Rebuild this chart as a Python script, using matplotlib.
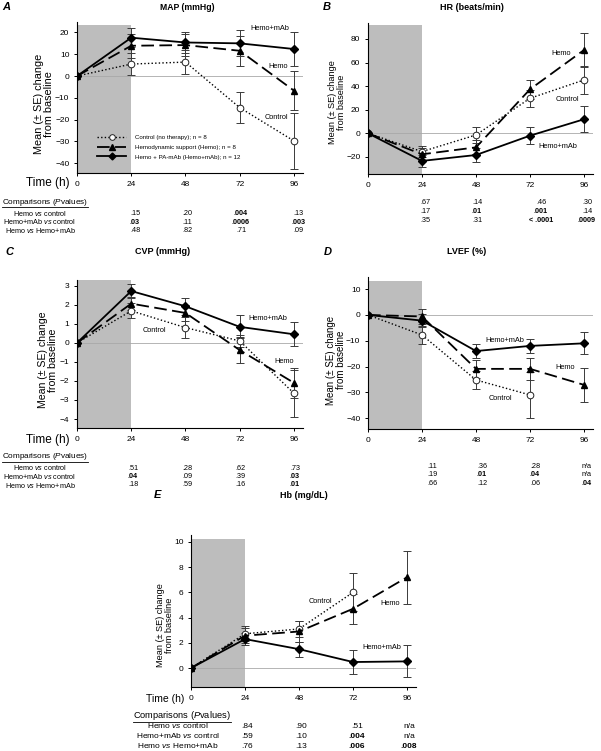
import numpy as np
import matplotlib
matplotlib.use("Agg")
import matplotlib.pyplot as plt
from matplotlib.lines import Line2D

plt.rcParams['font.family'] = ['Liberation Sans', 'DejaVu Sans']
plt.rcParams['mathtext.fontset'] = 'custom'
plt.rcParams['mathtext.rm'] = 'Liberation Sans'
plt.rcParams['mathtext.it'] = 'Liberation Sans:italic'

nan = np.nan
hours = [0, 24, 48, 72, 96]

# MAP (mmHg)
map_ctrl = [0, 5.5, 6.4, -14.5, -29.8]
map_ctrl_se = [0, 5, 5.5, 7.2, 12.7]
map_hemo = [0, 13.9, 14.2, 11.6, -6.7]
map_hemo_se = [0, 5.4, 5, 7, 9]
map_mab = [0, 17.6, 15.4, 15.0, 12.4]
map_mab_se = [0, 4.5, 4.6, 6, 7.6]

# HR (beats/min)
hr_ctrl = [0, -15.5, -1.4, 29.7, 45.2]
hr_ctrl_se = [0, 5, 7, 7, 11.5]
hr_hemo = [0, -17.8, -11.9, 37.3, 70.6]
hr_hemo_se = [0, 5, 6, 8, 14]
hr_mab = [0, -23.4, -18.4, -2, 11.9]
hr_mab_se = [0, 5, 6, 7, 11]

# CVP (mmHg)
cvp_ctrl = [0, 1.68, 0.8, 0.1, -2.65]
cvp_ctrl_se = [0, 0.4, 0.55, 0.3, 1.25]
cvp_hemo = [0, 2.06, 1.57, -0.38, -2.1]
cvp_hemo_se = [0, 0.35, 0.4, 0.7, 0.8]
cvp_mab = [0, 2.72, 1.92, 0.84, 0.45]
cvp_mab_se = [0, 0.35, 0.45, 0.6, 0.62]

# LVEF (%)
lvef_ctrl = [0, -7.75, -25.2, -31, nan]
lvef_ctrl_se = [0, 3.4, 3.5, 9, nan]
lvef_hemo = [0, -0.6, -20.9, -20.9, -27.1]
lvef_hemo_se = [0, 3, 3.5, 4.2, 6.5]
lvef_mab = [0, -2.2, -14, -12, -11]
lvef_mab_se = [0, 2.5, 2.8, 2.6, 4.3]

# Hb (mg/dL)
hb_ctrl = [0, 2.72, 3.1, 6.0, nan]
hb_ctrl_se = [0, 0.6, 0.6, 1.5, nan]
hb_hemo = [0, 2.57, 2.9, 4.7, 7.2]
hb_hemo_se = [0, 0.6, 0.8, 1.2, 2.1]
hb_mab = [0, 2.3, 1.5, 0.48, 0.53]
hb_mab_se = [0, 0.5, 0.6, 0.97, 1.27]

row_labels = ["Hemo $\\mathit{vs}$ control",
              "Hemo+mAb $\\mathit{vs}$ control",
              "Hemo $\\mathit{vs}$ Hemo+mAb"]
# p values per panel (rows x 24/48/72/96), "*" = bold
map_p = [[".15", ".20", "*.004", ".13"],
         ["*.03", ".11", "*.0006", "*.003"],
         [".48", ".82", ".71", ".09"]]
hr_p = [[".67", ".14", ".46", ".30"],
        [".17", "*.01", "*.001", ".14"],
        [".35", ".31", "*< .0001", "*.0009"]]
cvp_p = [[".51", ".28", ".62", ".73"],
         ["*.04", ".09", ".39", "*.03"],
         [".18", ".59", ".16", "*.01"]]
lvef_p = [[".11", ".36", ".28", "n/a"],
          [".19", "*.01", "*.04", "n/a"],
          [".66", ".12", ".06", "*.04"]]
hb_p = [[".84", ".90", ".51", "n/a"],
        [".59", ".10", "*.004", "n/a"],
        [".76", ".13", "*.006", "*.008"]]

W, H = 601, 751
fig = plt.figure(figsize=(W / 100, H / 100), dpi=100)


def fx(x):
    return x / W


def fy(y):
    return 1 - y / H


def make_ax(l, t, r, b, ylim, yticks, span_top=0.975):
    ax = fig.add_axes([fx(l), fy(b), fx(r - l), (b - t) / H])
    ax.set_xlim(0, 100)
    ax.set_ylim(*ylim)
    ax.axvspan(0, 24, ymin=0, ymax=span_top, color='#bdbdbd', lw=0, zorder=0)
    ax.axhline(0, color='#a8a8a8', lw=0.6, zorder=1)
    for s in ['top', 'right']:
        ax.spines[s].set_visible(False)
    for s in ['left', 'bottom']:
        ax.spines[s].set_linewidth(0.8)
    ax.set_xticks(hours)
    ax.set_yticks(yticks)
    ax.tick_params(labelsize=6, length=2.5, width=0.7, pad=3)
    return ax


def plot_series(ax, ctrl, ctrl_se, hemo, hemo_se, mab, mab_se):
    eb = dict(fmt='none', ecolor='#3a3a3a', elinewidth=0.7, capsize=2.6, capthick=0.7, zorder=2)
    ax.errorbar(hours, ctrl, yerr=ctrl_se, **eb)
    ax.errorbar(hours, hemo, yerr=hemo_se, **eb)
    ax.errorbar(hours, mab, yerr=mab_se, **eb)
    l1, = ax.plot(hours, ctrl, color='black', lw=1.0, ls=(0, (1, 1.6)), marker='o',
                  ms=4.8, mfc='white', mec='#222222', mew=0.7, zorder=3)
    l2, = ax.plot(hours, hemo, color='black', lw=1.3, ls=(0, (7, 3)), marker='^',
                  ms=4.8, zorder=4)
    l3, = ax.plot(hours, mab, color='black', lw=1.3, ls='-', marker='D',
                  ms=4.1, zorder=5)
    return l1, l2, l3


def table(y_rows, cols_x, pvals, label_cx=None, y_head=None, head_x=None, fs=5.2):
    if y_head is not None:
        t = fig.text(fx(head_x), fy(y_head), "Comparisons ($\\mathit{P}$values)",
                     fontsize=fs + 0.7, ha='left', va='center')
        underlines.append(t)
    for r in range(3):
        if label_cx is not None:
            fig.text(fx(label_cx), fy(y_rows[r]), row_labels[r], fontsize=fs,
                     ha='center', va='center')
        for c, v in enumerate(pvals[r]):
            bold = v.startswith("*")
            fig.text(fx(cols_x[c]), fy(y_rows[r]), v.lstrip("*"), fontsize=fs,
                     ha='center', va='center', fontweight='bold' if bold else 'normal')


def ylab(x, y, fs):
    fig.text(fx(x), fy(y), "Mean (± SE) change\nfrom baseline", rotation=90,
             fontsize=fs, ha='center', va='center', linespacing=1.0)


underlines = []
lab_fs = 5.3

# A: MAP
axA = make_ax(77, 22, 303, 173, (-44.5, 24.8), [-40, -30, -20, -10, 0, 10, 20], 0.98)
h = plot_series(axA, map_ctrl, map_ctrl_se, map_hemo, map_hemo_se, map_mab, map_mab_se)
axA.legend(h, ["Control (no therapy); n = 8", "Hemodynamic support (Hemo); n = 8",
               "Hemo + PA-mAb (Hemo+mAb); n = 12"],
           loc='upper left', bbox_to_anchor=(0.075, 0.275), frameon=False, fontsize=4.4,
           handlelength=4.8, handletextpad=1.4, labelspacing=0.75, borderpad=0,
           numpoints=1, markerscale=0.85)
axA.text(94, 22, "Hemo+mAb", fontsize=lab_fs, ha='right', va='center')
axA.text(93.3, 4.6, "Hemo", fontsize=lab_fs, ha='right', va='center')
axA.text(93.3, -18.8, "Control", fontsize=lab_fs, ha='right', va='center')
ylab(44, 104, 7.8)
fig.text(fx(70), fy(183), "Time (h)", fontsize=8.5, ha='right', va='center')
fig.text(fx(2), fy(7), "A", fontsize=8, fontweight='bold', fontstyle='italic', ha='left', va='center')
fig.text(fx(187), fy(7), "MAP (mmHg)", fontsize=6.2, fontweight='bold', ha='center', va='center')
table([213.5, 222, 230.5], [135, 187, 241, 298], map_p, label_cx=40, y_head=202, head_x=2)

# B: HR
axB = make_ax(368, 23, 593, 174, (-34.5, 93.5), [-20, 0, 20, 40, 60, 80], 0.987)
plot_series(axB, hr_ctrl, hr_ctrl_se, hr_hemo, hr_hemo_se, hr_mab, hr_mab_se)
axB.text(86, 68, "Hemo", fontsize=lab_fs, ha='center', va='center')
axB.text(88.4, 29, "Control", fontsize=lab_fs, ha='center', va='center')
axB.text(84.4, -11.6, "Hemo+mAb", fontsize=lab_fs, ha='center', va='center')
ylab(337, 102, 6.6)
fig.text(fx(327), fy(7), "B", fontsize=8, fontweight='bold', fontstyle='italic', ha='center', va='center')
fig.text(fx(472), fy(7), "HR (beats/min)", fontsize=6.5, fontweight='bold', ha='center', va='center')
table([203, 211.5, 220], [425, 477, 541, 587], hr_p)

# C: CVP
axC = make_ax(77, 280, 303, 428, (-4.47, 3.3), [-4, -3, -2, -1, 0, 1, 2, 3], 1.0)
plot_series(axC, cvp_ctrl, cvp_ctrl_se, cvp_hemo, cvp_hemo_se, cvp_mab, cvp_mab_se)
axC.text(84.4, 1.29, "Hemo+mAb", fontsize=lab_fs, ha='center', va='center')
axC.text(34.2, 0.66, "Control", fontsize=lab_fs, ha='center', va='center')
axC.text(91.6, -1.0, "Hemo", fontsize=lab_fs, ha='center', va='center')
ylab(48, 360, 7.6)
fig.text(fx(70), fy(440), "Time (h)", fontsize=8.5, ha='right', va='center')
fig.text(fx(5), fy(252), "C", fontsize=8, fontweight='bold', fontstyle='italic', ha='left', va='center')
fig.text(fx(163), fy(252), "CVP (mmHg)", fontsize=6.5, fontweight='bold', ha='center', va='center')
table([468, 476.5, 485], [133, 187, 240, 295], cvp_p, label_cx=40, y_head=457, head_x=2)

# D: LVEF
axD = make_ax(368, 277, 593, 429, (-44.2, 14.7), [-40, -30, -20, -10, 0, 10], 0.974)
plot_series(axD, lvef_ctrl, lvef_ctrl_se, lvef_hemo, lvef_hemo_se, lvef_mab, lvef_mab_se)
axD.text(60.7, -10.1, "Hemo+mAb", fontsize=lab_fs, ha='center', va='center')
axD.text(87.5, -20.5, "Hemo", fontsize=lab_fs, ha='center', va='center')
axD.text(59, -32.2, "Control", fontsize=lab_fs, ha='center', va='center')
ylab(336, 360, 7.0)
fig.text(fx(328), fy(252), "D", fontsize=8, fontweight='bold', fontstyle='italic', ha='center', va='center')
fig.text(fx(467), fy(252), "LVEF (%)", fontsize=6.5, fontweight='bold', ha='center', va='center')
table([466.5, 475, 483.5], [432, 482, 535, 587], lvef_p)

# E: Hb
axE = make_ax(191, 535, 416, 687, (-1.5, 10.55), [0, 2, 4, 6, 8, 10], 0.974)
plot_series(axE, hb_ctrl, hb_ctrl_se, hb_hemo, hb_hemo_se, hb_mab, hb_mab_se)
axE.text(57.6, 5.3, "Control", fontsize=lab_fs, ha='center', va='center')
axE.text(88.4, 5.1, "Hemo", fontsize=lab_fs, ha='center', va='center')
axE.text(84.8, 1.67, "Hemo+mAb", fontsize=lab_fs, ha='center', va='center')
ylab(165, 625, 6.6)
fig.text(fx(184), fy(699), "Time (h)", fontsize=7.5, ha='right', va='center')
fig.text(fx(157), fy(495), "E", fontsize=8, fontweight='bold', fontstyle='italic', ha='center', va='center')
fig.text(fx(304), fy(495), "Hb (mg/dL)", fontsize=6.5, fontweight='bold', ha='center', va='center')
table([726, 736, 746], [247, 301, 357, 409], hb_p, label_cx=178, y_head=716, head_x=133, fs=6.0)

# underline the "Comparisons" headers
fig.canvas.draw()
rend = fig.canvas.get_renderer()
for t in underlines:
    bb = t.get_window_extent(rend)
    fig.add_artist(Line2D([bb.x0 / W, bb.x1 / W], [(bb.y0 + 0.5) / H, (bb.y0 + 0.5) / H],
                          transform=fig.transFigure, color='black', lw=0.6))

fig.savefig("out.png", dpi=100)
